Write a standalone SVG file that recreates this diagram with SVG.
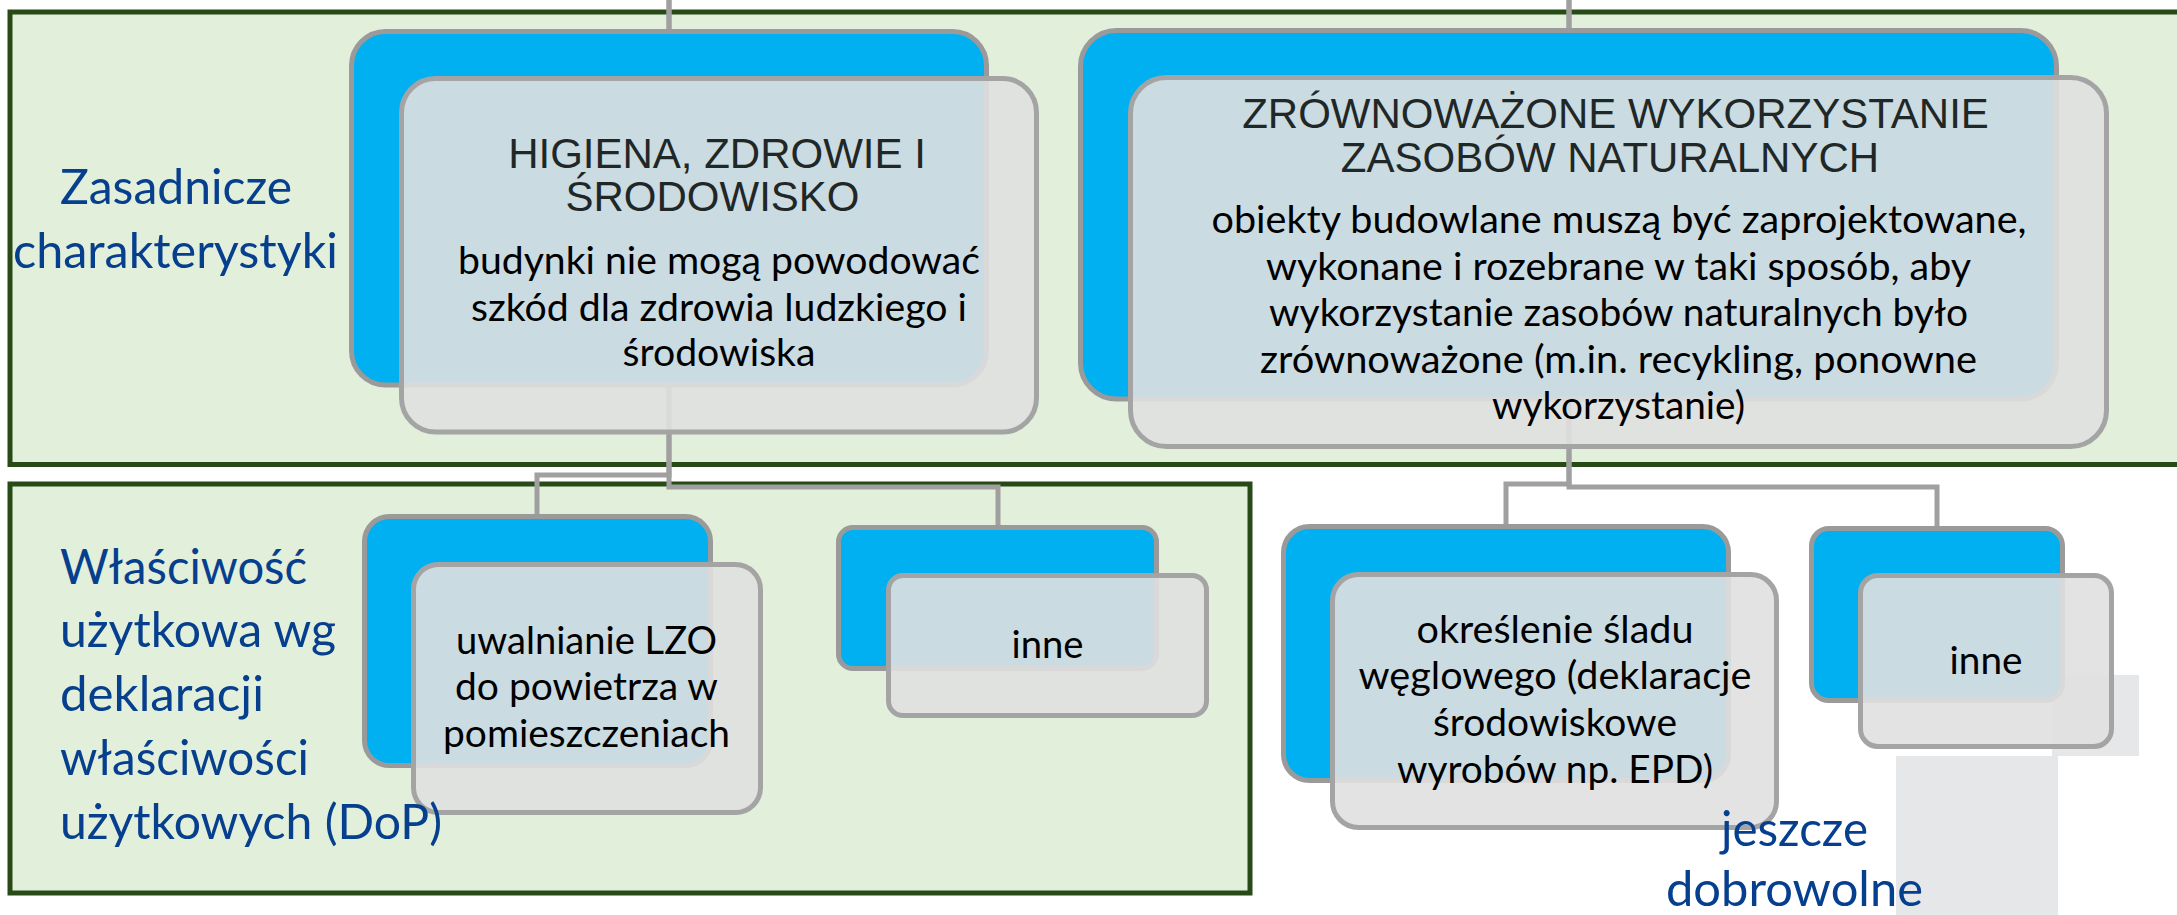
<svg xmlns="http://www.w3.org/2000/svg" width="2177" height="915" viewBox="0 0 2177 915">
<style>
.frame{fill:#e2efda;stroke:#284a16;stroke-width:5}
.blue{fill:#00b0f0;stroke:#9a9a9a;stroke-width:5}
.card{fill:#e0e0e0;fill-opacity:0.9;stroke:#a4a4a4;stroke-width:5}
.conn{fill:none;stroke:#a0a0a0;stroke-width:5}
.art{fill:#e6e7e8}
.head{font-family:"Liberation Sans",Arial,sans-serif;font-size:42px;fill:#1f2727;text-anchor:middle}
.body{font-family:Lato,"Open Sans",sans-serif;font-size:39.5px;fill:#000}
.label{font-family:Lato,"Open Sans",sans-serif;font-size:48.5px;fill:#063f8d}
</style>
<rect width="2177" height="915" fill="#ffffff"/>
<g id="frame-zasadnicze">
<rect class="frame" x="10" y="12" width="2200" height="452.5"/>
</g>
<g id="frame-dop">
<rect class="frame" x="10" y="484" width="1240" height="409"/>
</g>
<g id="artifacts">
<rect class="art" x="2052" y="675" width="87" height="81"/>
<rect class="art" x="1896" y="756" width="162" height="159"/>
</g>
<g id="connectors">
<path class="conn" d="M669,-5 V475 H537 V516"/>
<path class="conn" d="M669,-5 V487 H998 V528"/>
<path class="conn" d="M1569,-5 V484 H1506 V527"/>
<path class="conn" d="M1569,-5 V487 H1937 V529"/>
</g>
<g id="node-higiena">
<rect class="blue" x="351.5" y="31.5" width="635" height="353.5" rx="34"/>
<rect class="card" x="401.5" y="78.5" width="635" height="353.5" rx="34"/>
<text class="head" x="717" y="167.5">HIGIENA, ZDROWIE I</text>
<text class="head" x="712.5" y="211">ŚRODOWISKO</text>
<text class="body" x="458" y="274" textLength="522" lengthAdjust="spacingAndGlyphs">budynki nie mogą powodować</text>
<text class="body" x="471" y="320.5" textLength="496" lengthAdjust="spacingAndGlyphs">szkód dla zdrowia ludzkiego i</text>
<text class="body" x="622.5" y="366" textLength="193" lengthAdjust="spacingAndGlyphs">środowiska</text>
</g>
<g id="node-zasoby">
<rect class="blue" x="1080.5" y="30.5" width="976" height="368.5" rx="36"/>
<rect class="card" x="1130.5" y="77.5" width="976" height="369" rx="36"/>
<text class="head" x="1615.5" y="127.5">ZRÓWNOWAŻONE WYKORZYSTANIE</text>
<text class="head" x="1610" y="171.5">ZASOBÓW NATURALNYCH</text>
<text class="body" x="1211.5" y="233" textLength="815" lengthAdjust="spacingAndGlyphs">obiekty budowlane muszą być zaprojektowane,</text>
<text class="body" x="1266" y="279.5" textLength="705" lengthAdjust="spacingAndGlyphs">wykonane i rozebrane w taki sposób, aby</text>
<text class="body" x="1269" y="326" textLength="699" lengthAdjust="spacingAndGlyphs">wykorzystanie zasobów naturalnych było</text>
<text class="body" x="1260" y="372.5" textLength="717" lengthAdjust="spacingAndGlyphs">zrównoważone (m.in. recykling, ponowne</text>
<text class="body" x="1492" y="419" textLength="253" lengthAdjust="spacingAndGlyphs">wykorzystanie)</text>
</g>
<g id="node-lzo">
<rect class="blue" x="364.5" y="516.5" width="346" height="249" rx="25"/>
<rect class="card" x="413.5" y="564.5" width="347" height="248" rx="25"/>
<text class="body" x="456" y="653.5" textLength="261" lengthAdjust="spacingAndGlyphs">uwalnianie LZO</text>
<text class="body" x="455" y="700" textLength="263" lengthAdjust="spacingAndGlyphs">do powietrza w</text>
<text class="body" x="443" y="746.5" textLength="287" lengthAdjust="spacingAndGlyphs">pomieszczeniach</text>
</g>
<g id="node-inne-1">
<rect class="blue" x="838.5" y="527.5" width="318" height="141" rx="14.5"/>
<rect class="card" x="888.5" y="575.5" width="318" height="140" rx="14.5"/>
<text class="body" x="1011.5" y="657.5" textLength="72" lengthAdjust="spacingAndGlyphs">inne</text>
</g>
<g id="node-slad">
<rect class="blue" x="1283.5" y="526.5" width="445" height="254" rx="26"/>
<rect class="card" x="1332.5" y="574.5" width="444" height="253" rx="26"/>
<text class="body" x="1416.5" y="642.5" textLength="277" lengthAdjust="spacingAndGlyphs">określenie śladu</text>
<text class="body" x="1358.5" y="689" textLength="393" lengthAdjust="spacingAndGlyphs">węglowego (deklaracje</text>
<text class="body" x="1433" y="735.5" textLength="244" lengthAdjust="spacingAndGlyphs">środowiskowe</text>
<text class="body" x="1397" y="782.5" textLength="316" lengthAdjust="spacingAndGlyphs">wyrobów np. EPD)</text>
</g>
<g id="node-inne-2">
<rect class="blue" x="1811.5" y="528.5" width="251" height="172" rx="17.5"/>
<rect class="card" x="1860.5" y="575.5" width="251" height="171" rx="17.5"/>
<text class="body" x="1949.5" y="673.5" textLength="73" lengthAdjust="spacingAndGlyphs">inne</text>
</g>
<g id="label-zasadnicze">
<text class="label" x="60" y="203.5" textLength="232" lengthAdjust="spacingAndGlyphs">Zasadnicze</text>
<text class="label" x="13" y="267.5" textLength="325" lengthAdjust="spacingAndGlyphs">charakterystyki</text>
</g>
<g id="label-dop">
<text class="label" x="60" y="584" textLength="247" lengthAdjust="spacingAndGlyphs">Właściwość</text>
<text class="label" x="60" y="647" textLength="276" lengthAdjust="spacingAndGlyphs">użytkowa wg</text>
<text class="label" x="60" y="711" textLength="204" lengthAdjust="spacingAndGlyphs">deklaracji</text>
<text class="label" x="60" y="775" textLength="249" lengthAdjust="spacingAndGlyphs">właściwości</text>
<text class="label" x="60" y="839" textLength="382" lengthAdjust="spacingAndGlyphs">użytkowych (DoP)</text>
</g>
<g id="label-dobrowolne">
<text class="label" x="1721" y="846" textLength="147" lengthAdjust="spacingAndGlyphs">jeszcze</text>
<text class="label" x="1666" y="906" textLength="257" lengthAdjust="spacingAndGlyphs">dobrowolne</text>
</g>
</svg>
